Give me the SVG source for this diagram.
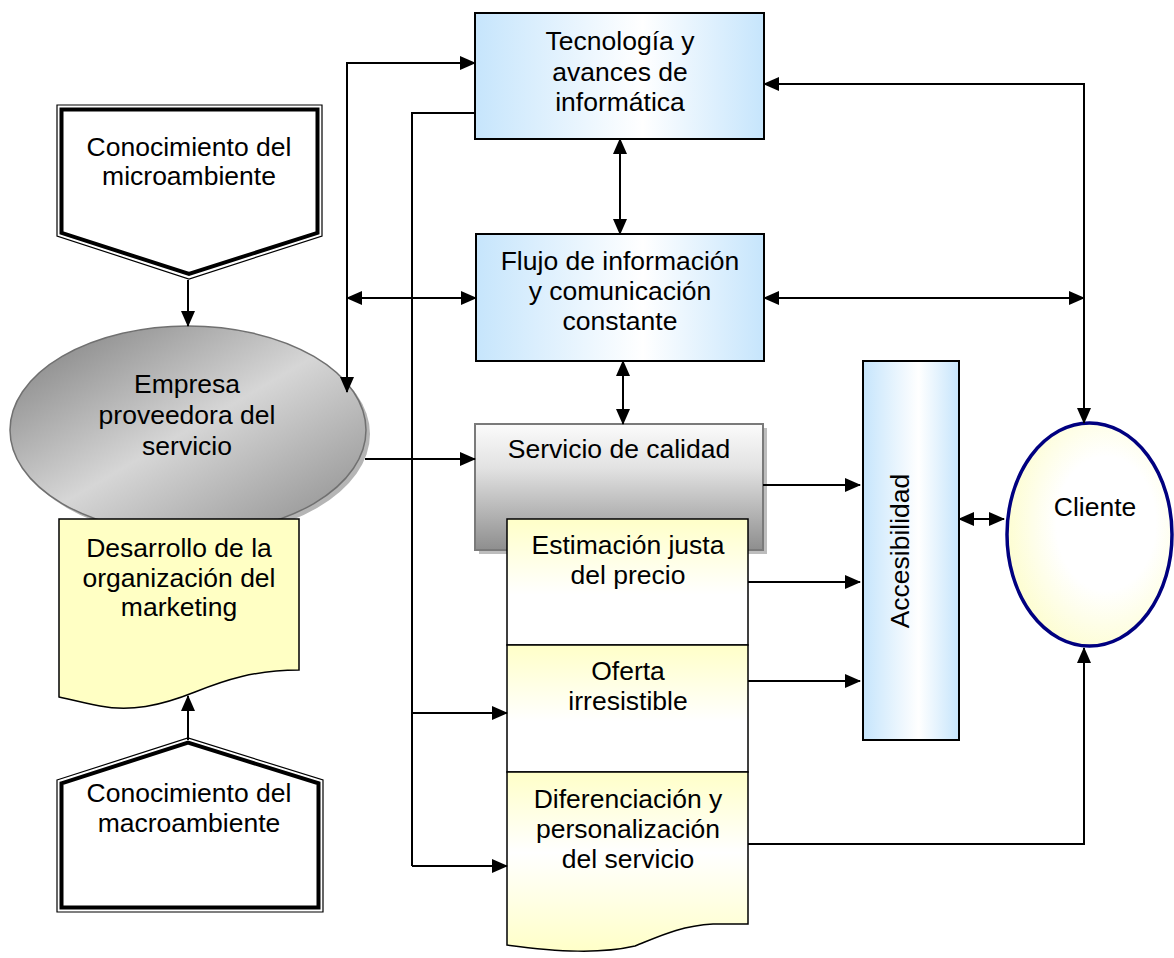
<svg xmlns="http://www.w3.org/2000/svg" width="1174" height="958" viewBox="0 0 1174 958">
  <defs>
    <style>
      text { font-family: "Liberation Sans", Arial, sans-serif; font-size: 26.5px; fill: #000; text-anchor: middle; }
      .ln { fill: none; stroke: #000; stroke-width: 2; }
      .arr { marker-end: url(#ah); }
      .bi { marker-start: url(#ah); marker-end: url(#ah); }
      .thin { fill: none; stroke: #000; stroke-width: 1.2; }
      .thick { fill: #fff; stroke: #000; stroke-width: 4; stroke-linejoin: miter; }
      .blue { stroke: #000; stroke-width: 2; }
      .cell { stroke: #000; stroke-width: 1.5; }
    </style>
    <marker id="ah" viewBox="0 0 16 14" refX="15" refY="7" markerWidth="16" markerHeight="14" markerUnits="userSpaceOnUse" orient="auto-start-reverse">
      <path d="M0,0 L16,7 L0,14 z" fill="#000"/>
    </marker>
    <linearGradient id="gBlue" x1="0" y1="0" x2="1" y2="0">
      <stop offset="0" stop-color="#c6e5fc"/>
      <stop offset="0.58" stop-color="#ffffff"/>
      <stop offset="1" stop-color="#c6e5fc"/>
    </linearGradient>
    <linearGradient id="gGray" x1="0" y1="0" x2="0" y2="1">
      <stop offset="0" stop-color="#fbfbfb"/>
      <stop offset="0.35" stop-color="#e2e2e2"/>
      <stop offset="1" stop-color="#8e8e8e"/>
    </linearGradient>
    <linearGradient id="gEllipse" x1="0" y1="0" x2="1" y2="1">
      <stop offset="0" stop-color="#7a7a7a"/>
      <stop offset="0.5" stop-color="#d6d6d6"/>
      <stop offset="1" stop-color="#8a8a8a"/>
    </linearGradient>
    <radialGradient id="gClient" cx="0.6" cy="0.45" r="0.6">
      <stop offset="0" stop-color="#ffffff"/>
      <stop offset="0.5" stop-color="#ffffff"/>
      <stop offset="1" stop-color="#fdfdd2"/>
    </radialGradient>
    <linearGradient id="gCell" x1="0" y1="0" x2="0" y2="1">
      <stop offset="0" stop-color="#ffffc8"/>
      <stop offset="0.6" stop-color="#ffffff"/>
      <stop offset="1" stop-color="#ffffff"/>
    </linearGradient>
    <linearGradient id="gCellLast" x1="0" y1="0" x2="0" y2="1">
      <stop offset="0" stop-color="#ffffc8"/>
      <stop offset="0.45" stop-color="#ffffff"/>
      <stop offset="1" stop-color="#ffffc8"/>
    </linearGradient>
  </defs>

  <rect width="1174" height="958" fill="#fff"/>

  <!-- Conocimiento del microambiente (downward pentagon, double border) -->
  <g id="node-micro">
    <path class="thin" d="M57,105 H322 V236 L189,279 L57,236 Z"/>
    <path class="thick" d="M61.5,109.5 H317.5 V232.8 L189,274 L61.5,232.8 Z"/>
    <text x="189" y="156">Conocimiento del</text>
    <text x="189" y="185">microambiente</text>
  </g>

  <!-- Empresa proveedora del servicio -->
  <g id="node-empresa">
    <ellipse cx="192" cy="434" rx="178" ry="104" fill="#b5b5b5"/>
    <ellipse cx="188" cy="430" rx="178" ry="104" fill="url(#gEllipse)" stroke="#707070" stroke-width="1.5"/>
    <text x="187" y="393">Empresa</text>
    <text x="187" y="424">proveedora del</text>
    <text x="187" y="455">servicio</text>
  </g>

  <!-- Desarrollo de la organización del marketing (document shape) -->
  <g id="node-desarrollo">
    <path d="M59,519 H299 V670 C255,670 225,680 195,692 C160,706 130,712 100,706 C80,702 68,699 59,697 Z" fill="#ffffc4" stroke="#000" stroke-width="1.5"/>
    <text x="179" y="557">Desarrollo de la</text>
    <text x="179" y="587">organización del</text>
    <text x="179" y="616">marketing</text>
  </g>

  <!-- Conocimiento del macroambiente (upward pentagon, double border) -->
  <g id="node-macro">
    <path class="thin" d="M57,780 L188,738 L323,780 V912 H57 Z"/>
    <path class="thick" d="M61.5,783.3 L188,742.7 L318.5,783.3 V907.5 H61.5 Z"/>
    <text x="189" y="802">Conocimiento del</text>
    <text x="189" y="832">macroambiente</text>
  </g>

  <!-- Tecnología y avances de informática -->
  <g id="node-tecnologia">
    <rect class="blue" x="475" y="13" width="289" height="126" fill="url(#gBlue)"/>
    <text x="620" y="50">Tecnología y</text>
    <text x="620" y="81">avances de</text>
    <text x="620" y="111">informática</text>
  </g>

  <!-- Flujo de información y comunicación constante -->
  <g id="node-flujo">
    <rect class="blue" x="476" y="234" width="288" height="127" fill="url(#gBlue)"/>
    <text x="620" y="270">Flujo de información</text>
    <text x="620" y="300">y comunicación</text>
    <text x="620" y="330">constante</text>
  </g>

  <!-- Servicio de calidad -->
  <g id="node-servicio">
    <rect x="479" y="428" width="288" height="126" fill="#bdbdbd"/>
    <rect x="475" y="424" width="288" height="126" fill="url(#gGray)" stroke="#7a7a7a" stroke-width="2"/>
    <text x="619" y="458">Servicio de calidad</text>
  </g>

  <!-- Estimación justa del precio -->
  <g id="node-estimacion">
    <rect class="cell" x="507" y="519" width="241" height="126" fill="url(#gCell)"/>
    <text x="628" y="554">Estimación justa</text>
    <text x="628" y="584">del precio</text>
  </g>

  <!-- Oferta irresistible -->
  <g id="node-oferta">
    <rect class="cell" x="507" y="645" width="241" height="127" fill="url(#gCell)"/>
    <text x="628" y="680">Oferta</text>
    <text x="628" y="710">irresistible</text>
  </g>

  <!-- Diferenciación y personalización del servicio (document shape) -->
  <g id="node-diferenciacion">
    <path class="cell" d="M507,772 H748 V924 H713 C680,926 660,936 635,946 C600,954 560,952 507,945 Z" fill="url(#gCellLast)"/>
    <text x="628" y="808">Diferenciación y</text>
    <text x="628" y="838">personalización</text>
    <text x="628" y="868">del servicio</text>
  </g>

  <!-- Accesibilidad -->
  <g id="node-accesibilidad">
    <rect class="blue" x="863" y="361" width="96" height="379" fill="url(#gBlue)"/>
    <text transform="translate(909,551) rotate(-90)">Accesibilidad</text>
  </g>

  <!-- Cliente -->
  <g id="node-cliente">
    <ellipse cx="1089.5" cy="534.5" rx="82.5" ry="111.5" fill="url(#gClient)" stroke="#000080" stroke-width="3.5"/>
    <text x="1095" y="516">Cliente</text>
  </g>

  <!-- Connectors -->
  <g id="connectors">
    <path class="ln arr" d="M188,280 V326"/>
    <path class="ln arr" d="M188,740 V696"/>
    <path class="ln bi" d="M347,392 V63 H475"/>
    <path class="ln bi" d="M347,298 H476"/>
    <path class="ln" d="M475,113 H412 V866"/>
    <path class="ln arr" d="M412,866 H507"/>
    <path class="ln arr" d="M412,713 H507"/>
    <path class="ln arr" d="M365,459 H475"/>
    <path class="ln bi" d="M620,139 V234"/>
    <path class="ln bi" d="M623,361 V424"/>
    <path class="ln bi" d="M1084,423 V84 H764"/>
    <path class="ln bi" d="M764,298 H1084"/>
    <path class="ln arr" d="M763,485 H860"/>
    <path class="ln arr" d="M748,582 H860"/>
    <path class="ln arr" d="M748,681 H860"/>
    <path class="ln bi" d="M959,519 H1004"/>
    <path class="ln arr" d="M748,844 H1084 V648"/>
  </g>
</svg>
